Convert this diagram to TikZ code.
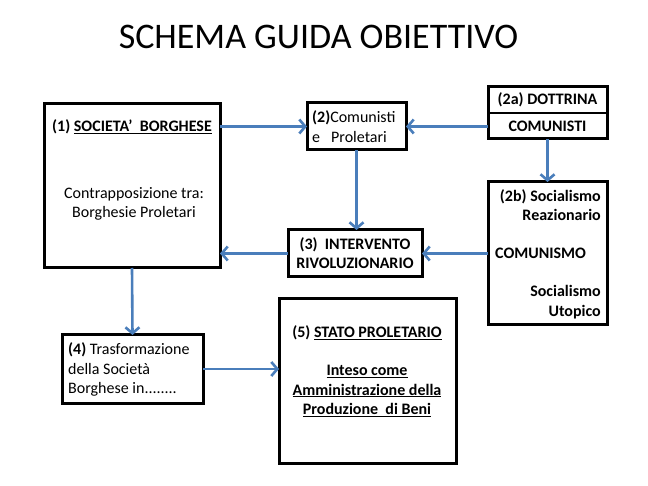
\documentclass[tikz,border=0pt]{standalone}
\usepackage{fontspec}
\setmainfont{Carlito}
\usetikzlibrary{arrows.meta}
\definecolor{arrowblue}{HTML}{4A7EBB}
\tikzset{
  box/.style={draw=black, line width=3pt, fill=white, inner sep=0pt, outer sep=0pt},
  txt/.style={inner sep=0pt, font=\fontsize{16}{19.5}\selectfont},
  conn/.style={draw=arrowblue, line width=2.6pt, -{Straight Barb[length=6pt,width=14pt,line width=2.6pt]}},
}
\begin{document}
\begin{tikzpicture}[x=1pt,y=-1pt]
\useasboundingbox[fill=white] (0,0) rectangle (648,486);
\node[inner sep=0pt, font=\fontsize{36}{40}\selectfont] (title) at (318.5,37) {SCHEMA GUIDA OBIETTIVO};
% boxes
\node[box, minimum width=176pt, minimum height=164pt] (b1) at (132,186) {};
\node[box, minimum width=99pt, minimum height=47pt] (b2) at (356.5,126.5) {};
\node[box, minimum width=119pt, minimum height=52pt] (b2a) at (547.5,113) {};
\node[box, minimum width=119pt, minimum height=143pt] (b2b) at (547.5,253.5) {};
\node[box, minimum width=134pt, minimum height=47pt] (b3) at (355,253.5) {};
\node[box, minimum width=141pt, minimum height=68pt] (b4) at (132.5,369) {};
\node[box, minimum width=177pt, minimum height=164pt] (b5) at (367.5,381) {};
\draw[line width=2.5pt] (b2a.west) -- (b2a.east);
% texts
\node[txt] (t1a) at (132,127) {\textbf{(1) \underline{SOCIETA’\ \ BORGHESE}}};
\node[txt, align=center] (t1b) at (134,204) {Contrapposizione tra:\\Borghesie Proletari};
\node[txt, align=left, anchor=west] (t2) at (312,126.5) {\textbf{(2)}Comunisti\\e\hspace{11pt}Proletari};
\node[txt] (t2a1) at (547.5,100) {\textbf{(2a) DOTTRINA}};
\node[txt] (t2a2) at (547.5,126) {\textbf{COMUNISTI}};
\node[txt, align=right, anchor=east] (t2b1) at (601,205) {\textbf{(2b) Socialismo}\\\textbf{Reazionario}};
\node[txt, anchor=west] (t2b2) at (495,253) {\textbf{COMUNISMO}};
\node[txt, align=right, anchor=east] (t2b3) at (601,302) {\textbf{Socialismo}\\\textbf{Utopico}};
\node[txt, align=center] (t3) at (355,253) {\textbf{(3)\ \ INTERVENTO}\\\textbf{RIVOLUZIONARIO}};
\node[txt, align=left, anchor=west] (t4) at (68,369.5) {\textbf{(4)} Trasformazione\\della Società\\Borghese in........};
\node[txt] (t5a) at (367,333) {\textbf{(5) \underline{STATO PROLETARIO}}};
\node[txt, align=center] (t5b) at (367,391) {\textbf{\underline{Inteso come}}\\\textbf{\underline{Amministrazione della}}\\\textbf{\underline{Produzione\ \ di Beni}}};
% connectors
\draw[conn] (b1.east |- b2.west) -- (b2.west);
\draw[conn] (b2a.west |- b2.east) -- (b2.east);
\draw[conn] (b2a.south) -- (b2b.north);
\draw[conn] (b2.south) -- (b2.south |- b3.north);
\draw[conn] (b2b.west) -- (b3.east);
\draw[conn] (b3.west) -- (b1.east |- b3.west);
\draw[conn] (b1.south) -- (b4.north);
\draw[conn] (b4.east) -- (b5.west |- b4.east);
\end{tikzpicture}
\end{document}
